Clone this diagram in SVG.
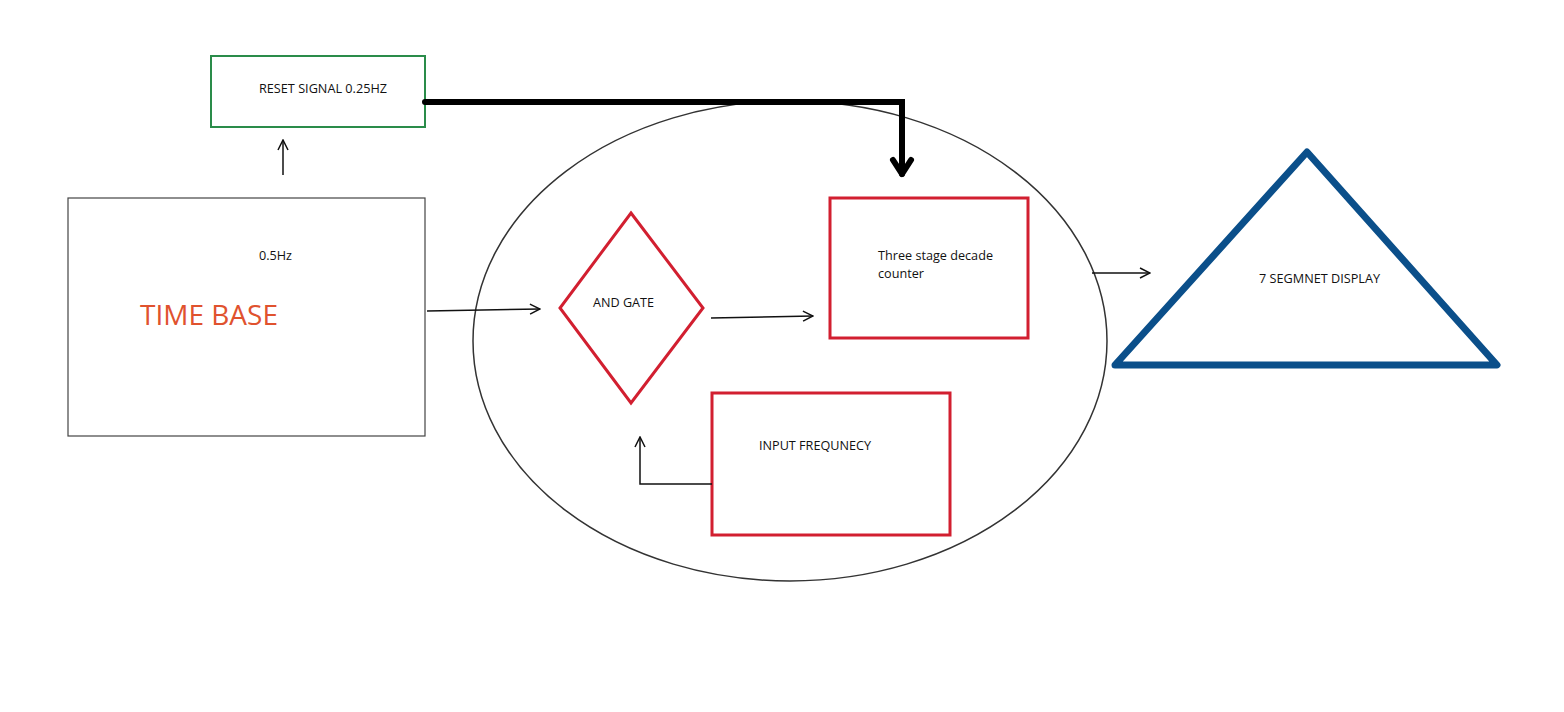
<svg xmlns="http://www.w3.org/2000/svg" width="1564" height="712" viewBox="0 0 1564 712">
<defs>
<style>
.t{font-family:"Open Sans","Liberation Sans",sans-serif;font-size:12.5px;fill:#111}
.red{fill:none;stroke:#d21f30;stroke-width:3}
.thin{fill:none;stroke:#111;stroke-width:1.5}
</style>
<marker id="ah" viewBox="0 0 12 12" refX="11" refY="6" markerWidth="12" markerHeight="12" markerUnits="userSpaceOnUse" orient="auto">
<path d="M1,1 L11,6 L1,11" fill="none" stroke="#111" stroke-width="1.5"/>
</marker>
</defs>
<rect width="1564" height="712" fill="#fff"/>
<g id="ellipse"><ellipse cx="790" cy="341" rx="317" ry="240" fill="none" stroke="#333" stroke-width="1.5"/></g>
<g id="reset"><rect x="211" y="56" width="214" height="71" fill="none" stroke="#2a8c4a" stroke-width="2"/>
<text class="t" x="259" y="93" textLength="128" lengthAdjust="spacingAndGlyphs">RESET SIGNAL 0.25HZ</text></g>
<g id="timebase"><rect x="68" y="198" width="357" height="238" fill="none" stroke="#444" stroke-width="1.2"/>
<text class="t" x="259" y="260" textLength="33" lengthAdjust="spacingAndGlyphs">0.5Hz</text>
<text x="140" y="325" font-family="Open Sans,Liberation Sans,sans-serif" font-size="28" fill="#e0522e" textLength="138" lengthAdjust="spacingAndGlyphs">TIME BASE</text></g>
<g id="andgate"><polygon class="red" points="631,213 703,308 631,403 560,308"/>
<text class="t" x="593" y="307" textLength="61" lengthAdjust="spacingAndGlyphs">AND GATE</text></g>
<g id="counter"><rect class="red" x="830" y="198" width="198" height="140"/>
<text class="t" x="878" y="260" textLength="115" lengthAdjust="spacingAndGlyphs">Three stage decade</text>
<text class="t" x="878" y="278" textLength="46" lengthAdjust="spacingAndGlyphs">counter</text></g>
<g id="input"><rect class="red" x="712" y="393" width="238" height="142"/>
<text class="t" x="759" y="450" textLength="112" lengthAdjust="spacingAndGlyphs">INPUT FREQUNECY</text></g>
<g id="display"><polygon points="1307,152 1497,365 1115,365" fill="none" stroke="#0b4f8a" stroke-width="7" stroke-linejoin="round"/>
<text class="t" x="1259" y="283" textLength="121" lengthAdjust="spacingAndGlyphs">7 SEGMNET DISPLAY</text></g>
<g id="connectors">
<polyline points="425,102 902,102 902,174" fill="none" stroke="#000" stroke-width="6" stroke-linejoin="miter" stroke-linecap="round"/>
<polyline points="893,160 902,174 911,160" fill="none" stroke="#000" stroke-width="6" stroke-linecap="round" stroke-linejoin="round"/>
<line class="thin" x1="283" y1="175" x2="283" y2="140" marker-end="url(#ah)"/>
<line class="thin" x1="427" y1="311" x2="540" y2="309" marker-end="url(#ah)"/>
<line class="thin" x1="711" y1="318" x2="813" y2="316" marker-end="url(#ah)"/>
<polyline class="thin" points="712,484 640,484 640,437" marker-end="url(#ah)"/>
<line class="thin" x1="1092" y1="273" x2="1150" y2="273" marker-end="url(#ah)"/>
</g>
</svg>
